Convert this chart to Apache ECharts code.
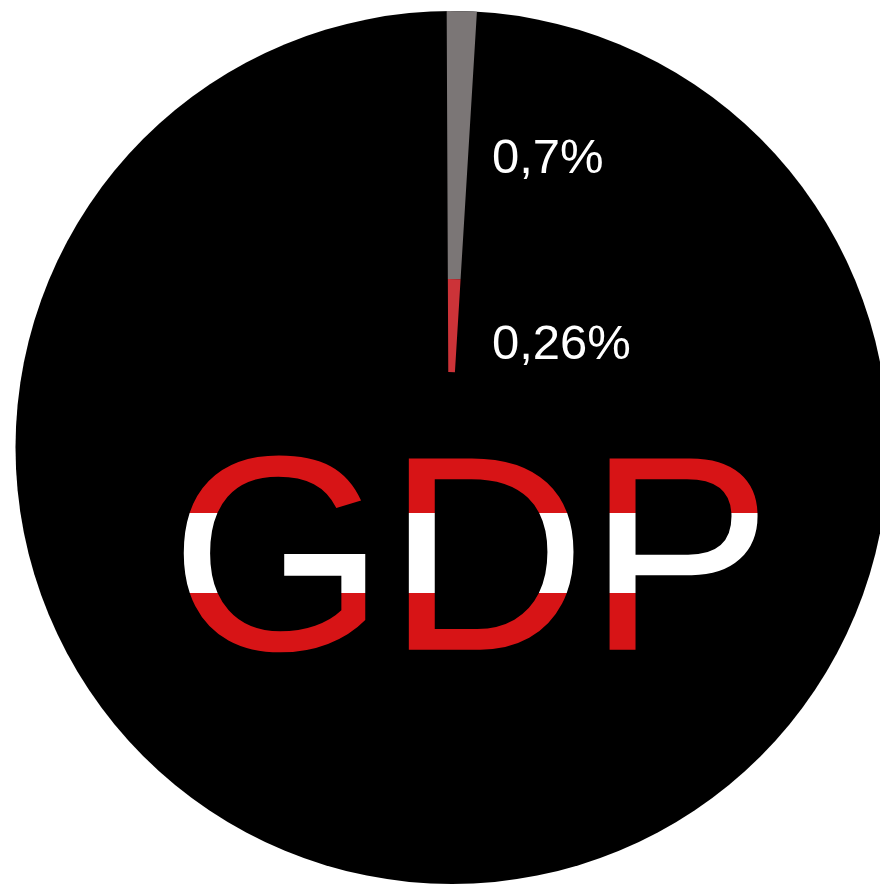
<!DOCTYPE html>
<html>
<head>
<meta charset="utf-8">
<script src="https://cdn.jsdelivr.net/npm/echarts@6/dist/echarts.min.js"></script>
<style>
html,body{margin:0;padding:0;background:#fff;}
#c{width:880px;height:885px;}
</style>
</head>
<body>
<div id="c"></div>
<script>
// Data
const sliceNames = ['Outer share', 'Inner share'];
const sliceValues = [0.7, 0.26];            // percent, as labelled
const sliceColors = ['#7b7676', '#cc3338'];
const wedgeDrawnShare = 1.04;                // % of the circle the drawn wedge spans (same for both rings)
const centerTitle = 'GDP';

function fmt(v) { return String(v).replace('.', ',') + '%'; }

const chart = echarts.init(document.getElementById('c'), null, {renderer: 'canvas'});

function wedgeSeries(idx, radius) {
  return {
    type: 'pie',
    silent: true,
    animation: false,
    center: [448.7, 474],
    radius: radius,
    startAngle: 90.25,
    clockwise: true,
    label: {show: false},
    labelLine: {show: false},
    emphasis: {disabled: true},
    itemStyle: {borderWidth: 0},
    data: [
      {name: sliceNames[idx], value: wedgeDrawnShare, itemStyle: {color: sliceColors[idx]}},
      {name: 'rest', value: 100 - wedgeDrawnShare, itemStyle: {color: 'rgba(0,0,0,0)'}}
    ]
  };
}

const textX = 471, textCenterY = 573;
const bandTop = 513, bandBottom = 593;
const flagRed = '#d71416';
const bigFont = '278px "Liberation Sans", Arial, sans-serif';

function bandText(y0, y1, color) {
  return {
    type: 'text',
    silent: true,
    style: {
      x: textX, y: textCenterY, text: centerTitle, font: bigFont,
      fill: color, align: 'center', verticalAlign: 'middle'
    },
    clipPath: {type: 'rect', shape: {x: 0, y: y0, width: 880, height: y1 - y0}}
  };
}

chart.setOption({
  backgroundColor: '#ffffff',
  animation: false,
  series: [
    {
      type: 'pie',
      silent: true,
      animation: false,
      center: [452, 447.5],
      radius: 436.5,
      label: {show: false},
      labelLine: {show: false},
      emphasis: {disabled: true},
      itemStyle: {borderWidth: 0, color: '#000000'},
      data: [{name: centerTitle, value: 100}]
    },
    wedgeSeries(0, [195, 463]),
    wedgeSeries(1, [102, 195]),
    {
      type: 'custom',
      coordinateSystem: 'none',
      silent: true,
      animation: false,
      z: 10,
      data: [[0]],
      renderItem: function () {
        return {
          type: 'group',
          children: [
            bandText(0, bandTop, flagRed),
            bandText(bandTop, bandBottom, '#ffffff'),
            bandText(bandBottom, 885, flagRed)
          ]
        };
      }
    }
  ],
  graphic: {
    elements: [
      {
        type: 'text', x: 492, y: 159, silent: true, z: 100,
        style: {text: fmt(sliceValues[0]), fill: '#ffffff', font: '49px "Liberation Sans", Arial, sans-serif', align: 'left', verticalAlign: 'middle'}
      },
      {
        type: 'text', x: 492, y: 345, silent: true, z: 100,
        style: {text: fmt(sliceValues[1]), fill: '#ffffff', font: '49px "Liberation Sans", Arial, sans-serif', align: 'left', verticalAlign: 'middle'}
      }
    ]
  }
});
</script>
</body>
</html>
